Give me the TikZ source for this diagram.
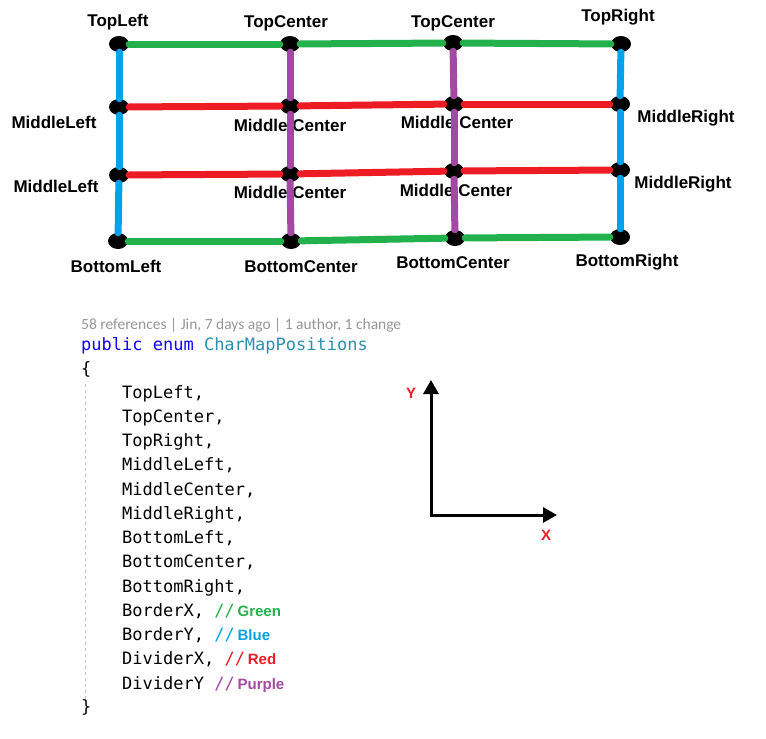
\documentclass[tikz,border=0pt]{standalone}
\usepackage{fontspec}
\setmainfont{Liberation Sans}
\setmonofont{DejaVu Sans Mono}
\newfontfamily\lensfont{Carlito}
\usetikzlibrary{shapes.geometric, arrows.meta, positioning}
\definecolor{paintgreen}{RGB}{34,177,76}
\definecolor{paintblue}{RGB}{0,162,232}
\definecolor{paintred}{RGB}{237,28,36}
\definecolor{paintpurple}{RGB}{163,73,164}
\definecolor{keyword}{RGB}{16,0,255}
\definecolor{typename}{RGB}{43,145,175}
\definecolor{lensgray}{RGB}{150,150,150}
\newcommand{\cmtfont}{\fontsize{15}{15}\selectfont\rmfamily\bfseries}

\begin{document}
\begin{tikzpicture}[x=1pt, y=-1pt,
    dot/.style={ellipse, fill=black, minimum width=20pt, minimum height=16pt, inner sep=0pt},
    lbl/.style={inner sep=0pt, font=\fontsize{17}{17}\selectfont\bfseries},
    seg/.style={line width=7pt, line cap=round},
    codeline/.style={anchor=base west, inner sep=0pt, font=\fontsize{17}{17}\selectfont\ttfamily},
    note/.style={font=\cmtfont}]
    \useasboundingbox (0,0) rectangle (766,739);

    % Grid dots
    \foreach \name/\x/\y in {tl/119/44, tc/290/44, tcb/453/43, tr/621/44,
                             ml/119/107, mc/290/106, mcb/454/104, mr/620/104,
                             mlb/119/175, mcc/290/174, mcd/454/171, mrb/620/170,
                             bl/118/241, bc/291/241, bcb/455/238, br/620/237} {
        \node[dot] (\name) at (\x, \y) {};
    }

    % Grid labels
    \foreach \name/\x/\y/\txt in {ltl/118/22/TopLeft, ltc/286/23/TopCenter, ltcb/453/23/TopCenter, ltr/618/17/TopRight,
                                  lml/54/122/MiddleLeft, lmc/290/125/Middle Center, lmcb/457/122/Middle Center, lmr/686/118/MiddleRight,
                                  lmlb/56/186/MiddleLeft, lmcc/290/192/Middle Center, lmcd/456/190/Middle Center, lmrb/683/184/MiddleRight,
                                  lbl/116/266/BottomLeft, lbc/301/267/BottomCenter, lbcb/453/263/BottomCenter, lbr/627/262/BottomRight} {
        \node[lbl] (\name) at (\x, \y) {\txt};
    }

    % Borders X (green) and Y (blue)
    \foreach \a/\b in {tl/tc, tc/tcb, tcb/tr, bl/bc, bc/bcb, bcb/br} {
        \draw[seg, paintgreen] (\a) -- (\b);
    }
    \foreach \a/\b in {tl/ml, ml/mlb, mlb/bl, tr/mr, mr/mrb, mrb/br} {
        \draw[seg, paintblue] (\a) -- (\b);
    }

    % Dividers X (red) and Y (purple)
    \foreach \a/\b in {ml/mc, mc/mcb, mcb/mr, mlb/mcc, mcc/mcd, mcd/mrb} {
        \draw[seg, paintred] (\a) -- (\b);
    }
    \foreach \a/\b in {tc/mc, mc/mcc, mcc/bc, tcb/mcb, mcb/mcd, mcd/bcb} {
        \draw[seg, paintpurple] (\a) -- (\b);
    }

    % Code
    \node[anchor=base west, inner sep=0pt, text=lensgray, font=\fontsize{15.5}{15.5}\selectfont\lensfont] (lens) at (81, 329)
        {58 references | Jin, 7 days ago | 1 author, 1 change};
    \node[codeline] (decl) at (81, 350) {\textcolor{keyword}{public enum} \textcolor{typename}{CharMapPositions}};
    \node[codeline] (open) at (81, 374) {\{};
    \foreach \txt [count=\k] in {TopLeft, TopCenter, TopRight, MiddleLeft, MiddleCenter,
                                 MiddleRight, BottomLeft, BottomCenter, BottomRight} {
        \node[codeline] (item\k) at (122, 373.75+24.25*\k) {\txt,};
    }
    \node[codeline] (borderx) at (122, 616.25) {BorderX, \textcolor{paintgreen}{//\,{\cmtfont Green}}};
    \node[codeline] (bordery) at (122, 640.5) {BorderY, \textcolor{paintblue}{//\,{\cmtfont Blue}}};
    \node[codeline] (dividerx) at (122, 664.75) {DividerX, \textcolor{paintred}{//\,{\cmtfont Red}}};
    \node[codeline] (dividery) at (122, 689) {DividerY \textcolor{paintpurple}{//\,{\cmtfont Purple}}};
    \node[codeline] (close) at (81, 712) {\}};
    \coordinate (guidetop) at (85, 384);
    \coordinate (guidebot) at (85, 700);
    \draw[lensgray!60, line width=1pt, dash pattern=on 3pt off 3pt] (guidetop) -- (guidebot);

    % Axes
    \coordinate (origin) at (431, 515);
    \coordinate (ytip) at (431, 380);
    \coordinate (xtip) at (557, 515);
    \draw[line width=3pt, {Triangle[length=14pt, width=15pt]}-{Triangle[length=14pt, width=15pt]}] (ytip) -- (origin) -- (xtip);
    \node[note, text=paintred] (ylabel) at (411, 393) {Y};
    \node[note, text=paintred] (xlabel) at (546, 535) {X};
\end{tikzpicture}
\end{document}
